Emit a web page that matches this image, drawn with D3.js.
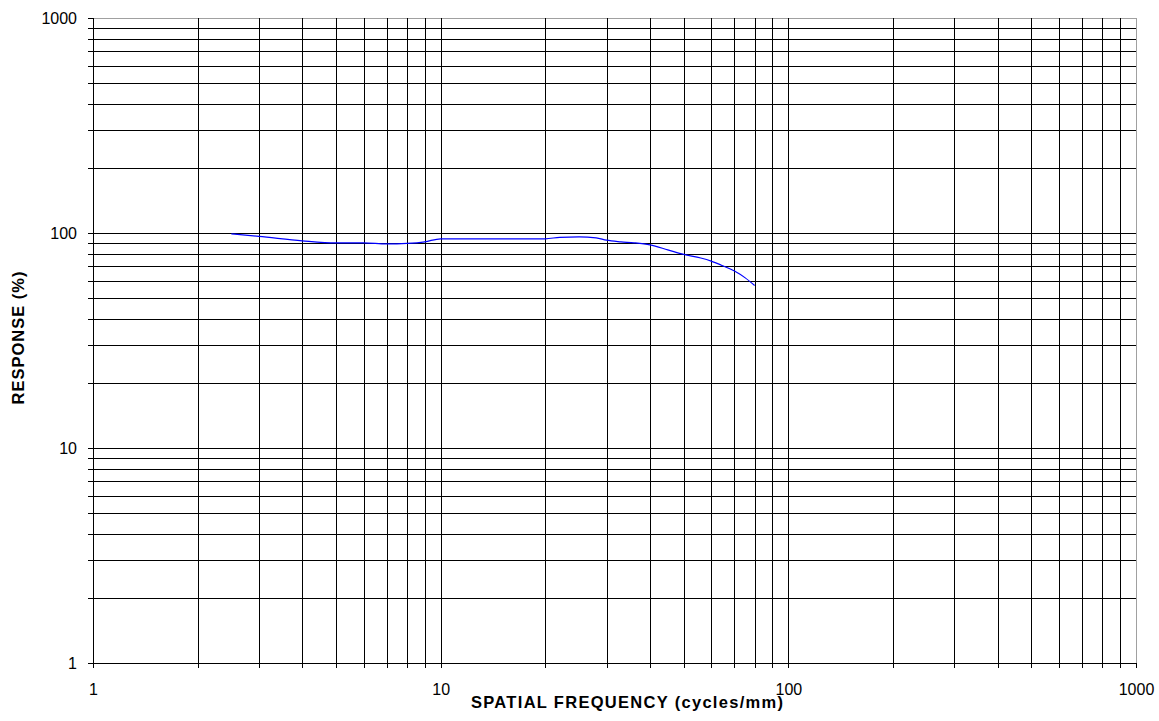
<!DOCTYPE html>
<html lang="en">
<head>
  <meta charset="UTF-8">
  <title>Spatial Frequency Response</title>
  <style>
    body {
      margin: 0;
      padding: 0;
      background-color: #ffffff;
      font-family: Arial, "Liberation Sans", sans-serif;
    }
    svg {
      display: block;
    }
  </style>
</head>
<body>
<div id="chart"></div>
<script src="https://d3js.org/d3.v7.min.js"></script>
<script>
  // values
  const frequency = [2.5, 3, 4, 5, 6, 7, 8, 9, 10, 15, 20, 22, 25, 28, 30, 33, 36, 40, 45, 50, 56, 60, 64, 70, 75, 80];
  const response  = [99, 96.5, 92, 90, 90, 89, 89.5, 91, 94, 94, 94, 95.5, 96, 95, 92.6, 91, 90, 88, 83.5, 79.5, 76.5, 74, 71, 66.5, 62, 57];
  const decadeTicks = [1, 10, 100, 1000];
  const gridTicks = [1, 2, 3, 4, 5, 6, 7, 8, 9, 10, 20, 30, 40, 50, 60, 70, 80, 90,
                     100, 200, 300, 400, 500, 600, 700, 800, 900, 1000];

  const width = 1159;
  const height = 721;
  const margin = { top: 18, right: 23, bottom: 58, left: 93 };
  const plotW = width - margin.left - margin.right;
  const plotH = height - margin.top - margin.bottom;

  const svg = d3.select("#chart").append("svg")
          .attr("width", width)
          .attr("height", height);

  const g = svg.append("g")
          .attr("transform", `translate(${margin.left},${margin.top})`);

  const xScale = d3.scaleLog().domain([1, 1000]).range([0, plotW]);
  const yScale = d3.scaleLog().domain([1, 1000]).range([plotH, 0]);

  // plot frame (top/right are light gray)
  g.append("rect")
          .attr("x", 0.5).attr("y", 0.5)
          .attr("width", plotW).attr("height", plotH)
          .attr("fill", "none")
          .attr("stroke", "#a0a0a0")
          .attr("shape-rendering", "crispEdges");

  // vertical grid + bottom ticks
  const xGrid = g.append("g")
          .attr("transform", `translate(0,${plotH})`)
          .call(d3.axisBottom(xScale).tickValues(gridTicks).tickSizeOuter(0).tickFormat(""));
  xGrid.select(".domain").remove();
  xGrid.selectAll(".tick line")
          .attr("y1", 5).attr("y2", d => d === 1000 ? 0 : -plotH)
          .attr("stroke", "#000")
          .attr("shape-rendering", "crispEdges");

  // horizontal grid + left ticks
  const yGrid = g.append("g")
          .call(d3.axisLeft(yScale).tickValues(gridTicks).tickSizeOuter(0).tickFormat(""));
  yGrid.select(".domain").remove();
  yGrid.selectAll(".tick line")
          .attr("x1", -5).attr("x2", d => d === 1000 ? 0 : plotW)
          .attr("stroke", "#000")
          .attr("shape-rendering", "crispEdges");

  // axis lines
  g.append("line").attr("x1", 0.5).attr("x2", 0.5).attr("y1", 0).attr("y2", plotH + 5)
          .attr("stroke", "#000").attr("shape-rendering", "crispEdges");
  g.append("line").attr("x1", -5).attr("x2", plotW + 1).attr("y1", plotH + 0.5).attr("y2", plotH + 0.5)
          .attr("stroke", "#000").attr("shape-rendering", "crispEdges");

  // decade labels
  const xLabels = g.append("g")
          .attr("transform", `translate(0,${plotH})`)
          .call(d3.axisBottom(xScale).tickValues(decadeTicks).tickSize(0).tickPadding(21).tickFormat(d3.format("d")));
  xLabels.select(".domain").remove();
  xLabels.selectAll("text")
          .attr("font-family", "Arial, 'Liberation Sans', sans-serif")
          .attr("font-size", 16)
          .attr("fill", "#000");

  const yLabels = g.append("g")
          .call(d3.axisLeft(yScale).tickValues(decadeTicks).tickSize(0).tickPadding(16).tickFormat(d3.format("d")));
  yLabels.select(".domain").remove();
  yLabels.selectAll("text")
          .attr("font-family", "Arial, 'Liberation Sans', sans-serif")
          .attr("font-size", 16)
          .attr("fill", "#000");

  // data line
  const points = frequency.map((f, i) => ({ f, r: response[i] }));
  const line = d3.line()
          .x(d => xScale(d.f))
          .y(d => yScale(d.r))
          .curve(d3.curveMonotoneX);

  g.append("path")
          .datum(points)
          .attr("d", line)
          .attr("fill", "none")
          .attr("stroke", "#0000ff")
          .attr("stroke-width", 1.2);

  // axis titles
  svg.append("text")
          .attr("x", 627)
          .attr("y", 708)
          .attr("text-anchor", "middle")
          .attr("font-family", "Arial, 'Liberation Sans', sans-serif")
          .attr("font-weight", "bold")
          .attr("font-size", 16.5)
          .attr("textLength", 312)
          .attr("lengthAdjust", "spacing")
          .text("SPATIAL FREQUENCY (cycles/mm)");

  svg.append("text")
          .attr("transform", "translate(23.5,338) rotate(-90)")
          .attr("text-anchor", "middle")
          .attr("font-family", "Arial, 'Liberation Sans', sans-serif")
          .attr("font-weight", "bold")
          .attr("font-size", 16.5)
          .attr("textLength", 133)
          .attr("lengthAdjust", "spacing")
          .text("RESPONSE (%)");
</script>
</body>
</html>
